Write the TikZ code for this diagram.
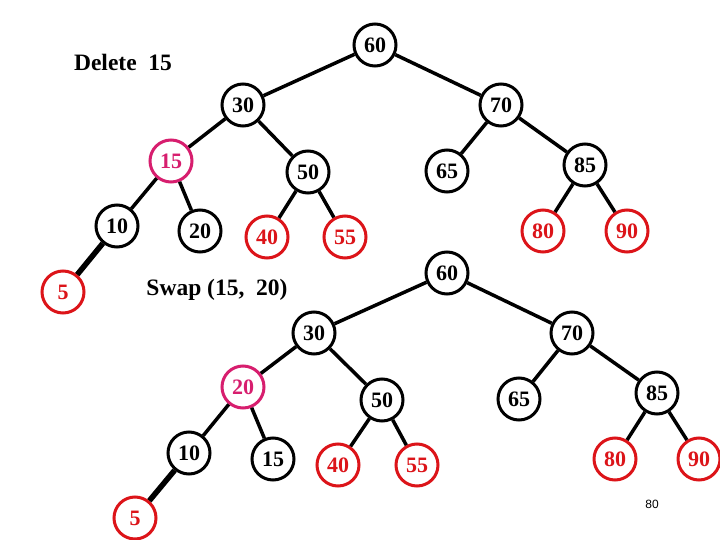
\documentclass[tikz,border=0pt]{standalone}
\usepackage{fontspec}
\setmainfont{Liberation Serif}
\newfontfamily\pagefont{Liberation Sans}
\definecolor{nred}{RGB}{220,20,25}
\definecolor{nmag}{RGB}{215,30,110}
\begin{document}
\begin{tikzpicture}[x=1pt,y=-1pt,
  tn/.style={circle,draw=black,line width=3pt,fill=white,minimum size=42pt,inner sep=0pt,font=\fontsize{22}{22}\selectfont\bfseries,text=black},
  rn/.style={tn,draw=nred,text=nred},
  mn/.style={tn,draw=nmag,text=nmag},
  ed/.style={line width=3.5pt,black},
  thk/.style={line width=5.5pt,black},
  lbl/.style={font=\fontsize{23.5}{23.5}\selectfont\bfseries,inner sep=0pt}]
\useasboundingbox (0,0) rectangle (720,540);
% top tree
\node[tn] (a60) at (375,45) {60};
\node[tn] (a30) at (243,105) {30};
\node[tn] (a70) at (501,105) {70};
\node[mn] (a15) at (171,161) {15};
\node[tn] (a50) at (308,172) {50};
\node[tn] (a65) at (447,171) {65};
\node[tn] (a85) at (585,165) {85};
\node[tn] (a10) at (117,226) {10};
\node[tn] (a20) at (200,231) {20};
\node[rn] (a40) at (267,237) {40};
\node[rn] (a55) at (345,237) {55};
\node[rn] (a80) at (543,231) {80};
\node[rn] (a90) at (627,231) {90};
\node[rn] (a5) at (63,292) {5};
\draw[ed] (a60) -- (a30);
\draw[ed] (a60) -- (a70);
\draw[ed] (a30) -- (a15);
\draw[ed] (a30) -- (a50);
\draw[ed] (a70) -- (a65);
\draw[ed] (a70) -- (a85);
\draw[ed] (a15) -- (a10);
\draw[ed] (a15) -- (a20);
\draw[ed] (a50) -- (a40);
\draw[ed] (a50) -- (a55);
\draw[ed] (a85) -- (a80);
\draw[ed] (a85) -- (a90);
\draw[thk] (a10) -- (a5);
\node[lbl] (t1) at (123,62) {Delete\ \ 15};
% bottom tree
\node[tn] (b60) at (447,273) {60};
\node[tn] (b30) at (314,333) {30};
\node[tn] (b70) at (572,333) {70};
\node[mn] (b20) at (243,387) {20};
\node[tn] (b50) at (382,400) {50};
\node[tn] (b65) at (519,399) {65};
\node[tn] (b85) at (657,393) {85};
\node[tn] (b10) at (189,453) {10};
\node[tn] (b15) at (273,459) {15};
\node[rn] (b40) at (338,465) {40};
\node[rn] (b55) at (417,465) {55};
\node[rn] (b80) at (615,459) {80};
\node[rn] (b90) at (699,459) {90};
\node[rn] (b5) at (135,518) {5};
\draw[ed] (b60) -- (b30);
\draw[ed] (b60) -- (b70);
\draw[ed] (b30) -- (b20);
\draw[ed] (b30) -- (b50);
\draw[ed] (b70) -- (b65);
\draw[ed] (b70) -- (b85);
\draw[ed] (b20) -- (b10);
\draw[ed] (b20) -- (b15);
\draw[ed] (b50) -- (b40);
\draw[ed] (b50) -- (b55);
\draw[ed] (b85) -- (b80);
\draw[ed] (b85) -- (b90);
\draw[thk] (b10) -- (b5);
\node[lbl] (t2) at (217,290) {Swap (15,\ \ 20)};
\node[font=\pagefont\fontsize{12}{12}\selectfont,inner sep=0pt] (pg) at (652,504) {80};
\end{tikzpicture}
\end{document}
